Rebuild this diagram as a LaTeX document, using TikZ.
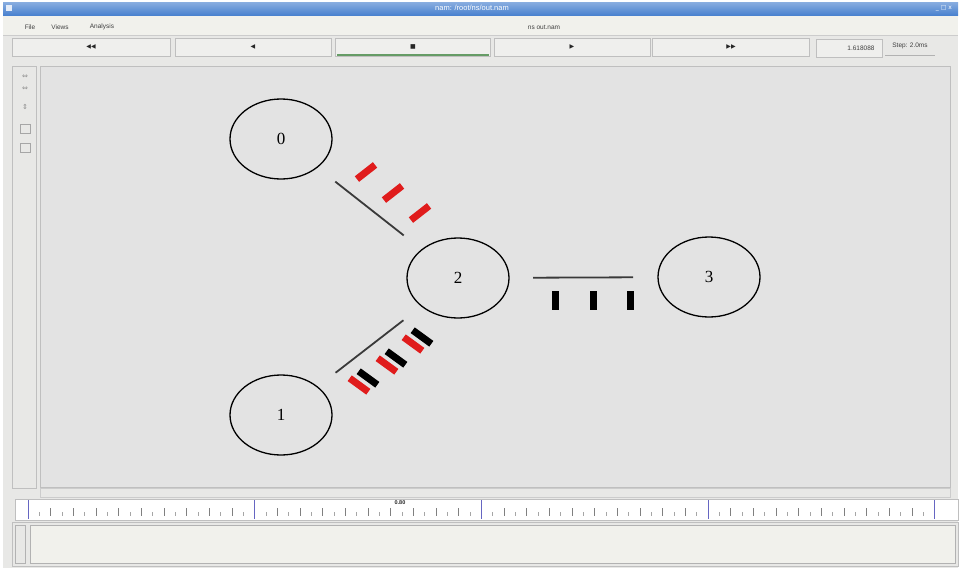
\documentclass[tikz,border=0pt]{standalone}
\usepackage{fontspec}
\setmainfont{Liberation Serif}
\newfontfamily\uifont{Liberation Sans}
\newfontfamily\symfont{DejaVu Sans}
\usetikzlibrary{shapes.geometric}
\definecolor{winbg}{HTML}{E8E8E6}
\definecolor{canvasbg}{HTML}{E3E3E3}
\definecolor{titleblue}{HTML}{4A82CF}
\definecolor{pktred}{HTML}{E01C1C}
\definecolor{linkgray}{HTML}{3A3A3A}
\definecolor{btnbg}{HTML}{EFEFED}
\definecolor{panelbg}{HTML}{F1F1EC}
\begin{document}
\begin{tikzpicture}[x=1pt,y=-1pt,
  nd/.style={draw=black, line width=1.3pt, ellipse, minimum width=102pt, minimum height=80pt, inner sep=0pt, font=\fontsize{17}{17}\selectfont},
  lnk/.style={draw=linkgray, line width=1.8pt},
  pkt/.style={rectangle, inner sep=0pt, minimum width=23pt, minimum height=7pt},
  btn/.style={draw=black!25, fill=btnbg, rectangle, inner sep=0pt, minimum height=18pt},
  ui/.style={font=\uifont\fontsize{6.5}{7}\selectfont, text=black!75, inner sep=0pt},
  sym/.style={font=\symfont\fontsize{6}{6}\selectfont, text=black!85, inner sep=0pt},
  icon/.style={font=\symfont\fontsize{7}{7}\selectfont, text=black!45, inner sep=0pt},
]
\useasboundingbox (0,0) rectangle (961,570);
\fill[white] (0,0) rectangle (961,570);
\fill[winbg] (3,2) rectangle (958,568);
% title bar
\shade[top color=titleblue!65, bottom color=titleblue] (3,2) rectangle (958,15);
\node[ui, text=white, font=\uifont\fontsize{7.5}{8}\selectfont] (title) at (472,8) {nam: /root/ns/out.nam};
\fill[white!85!titleblue] (6,5) rectangle (12,11);
\node[sym, text=white] (winctl) at (944,8) {\_ □ x};
% menu bar
\fill[panelbg] (3,16) rectangle (958,35);
\draw[black!20] (3,35) -- (958,35);
\node[ui] (mfile) at (30,27) {File};
\node[ui] (mviews) at (60,27) {Views};
\node[ui] (manal) at (102,27) {Analysis};
\node[ui] (mfile2) at (544,27) {ns out.nam};
% toolbar
\node[btn, minimum width=158pt] (b1) at (91,47) {};
\node[btn, minimum width=156pt] (b2) at (253,47) {};
\node[btn, minimum width=155pt] (b3) at (413,47) {};
\node[btn, minimum width=156pt] (b4) at (572,47) {};
\node[btn, minimum width=157pt] (b5) at (731,47) {};
\node[sym] (s1) at (b1) {◀◀};
\node[sym] (s2) at (b2) {◀};
\node[sym] (s3) at (b3) {■};
\node[sym] (s4) at (b4) {▶};
\node[sym] (s5) at (b5) {▶▶};
\draw[green!35!black!60, line width=1.6pt] ([xshift=2pt,yshift=1pt]b3.south west) -- ([xshift=-2pt,yshift=1pt]b3.south east);
\node[btn, minimum width=66pt] (tbox) at (849,48) {};
\node[ui] (time) at (861,48) {1.618088};
\node[ui] (step) at (910,46) {Step: 2.0ms};
\draw[black!30] (885,55) -- (935,55);
% left tool panel
\draw[black!25] (12,66) rectangle (36,488);
\node[icon] (i1) at (25,77) {⇔};
\node[icon] (i2) at (25,89) {⇔};
\node[icon] (i3) at (25,107) {⇕};
\draw[black!35] (20,124) rectangle (30,133);
\draw[black!35] (20,143) rectangle (30,152);
% canvas
\fill[canvasbg] (40,66) rectangle (950,487);
\draw[black!25] (40,66) rectangle (950,487);
% horizontal scrollbar
\draw[black!20] (40,488) rectangle (950,497);
% timeline
\fill[white] (15,499) rectangle (958,520);
\draw[black!25] (15,499) rectangle (958,520);
\foreach \k in {1,...,80} {
  \draw[black!35] (28+11.33*\k,512) -- (28+11.33*\k,516);
}
\foreach \k in {1,...,40} {
  \draw[black!50] (28+22.66*\k,508) -- (28+22.66*\k,516);
}
\foreach \k in {0,...,4} {
  \draw[black!40!blue!60] (28+226.6*\k,500) -- (28+226.6*\k,519);
}
\node[ui, text=black!85, font=\uifont\bfseries\fontsize{5.5}{6}\selectfont] (tlabel) at (400,503) {0.80};
% bottom panel
\draw[black!25] (12,522) rectangle (958,566);
\fill[panelbg] (30,525) rectangle (955,563);
\draw[black!30] (30,525) rectangle (955,563);
\draw[black!30] (15,525) rectangle (25,563);
% nodes
\node[nd] (n0) at (281,139) {0};
\node[nd] (n2) at (458,278) {2};
\node[nd] (n3) at (709,277) {3};
\node[nd] (n1) at (281,415) {1};
% links
\draw[lnk, shorten <=69pt, shorten >=69pt] (n0.center) -- (n2.center);
\draw[lnk, shorten <=69pt, shorten >=69pt] (n1.center) -- (n2.center);
\draw[lnk, shorten <=75pt, shorten >=76pt] (n2.center) -- (n3.center);
% packets on 0-2
\node[pkt, fill=pktred, rotate=38] (pa1) at (366,172) {};
\node[pkt, fill=pktred, rotate=38] (pa2) at (393,193) {};
\node[pkt, fill=pktred, rotate=38] (pa3) at (420,213) {};
% packets on 1-2
\node[pkt, fill=pktred, rotate=-36] (pb1) at (359,385) {};
\node[pkt, fill=black, rotate=-36] (pb2) at (368,378) {};
\node[pkt, fill=pktred, rotate=-36] (pb3) at (387,365) {};
\node[pkt, fill=black, rotate=-36] (pb4) at (396,358) {};
\node[pkt, fill=pktred, rotate=-36] (pb5) at (413,344) {};
\node[pkt, fill=black, rotate=-36] (pb6) at (422,337) {};
% packets on 2-3
\node[pkt, fill=black, rotate=90, minimum width=19pt, minimum height=7pt] (pc1) at (555,300) {};
\node[pkt, fill=black, rotate=90, minimum width=19pt, minimum height=7pt] (pc2) at (593,300) {};
\node[pkt, fill=black, rotate=90, minimum width=19pt, minimum height=7pt] (pc3) at (630,300) {};
\end{tikzpicture}
\end{document}
